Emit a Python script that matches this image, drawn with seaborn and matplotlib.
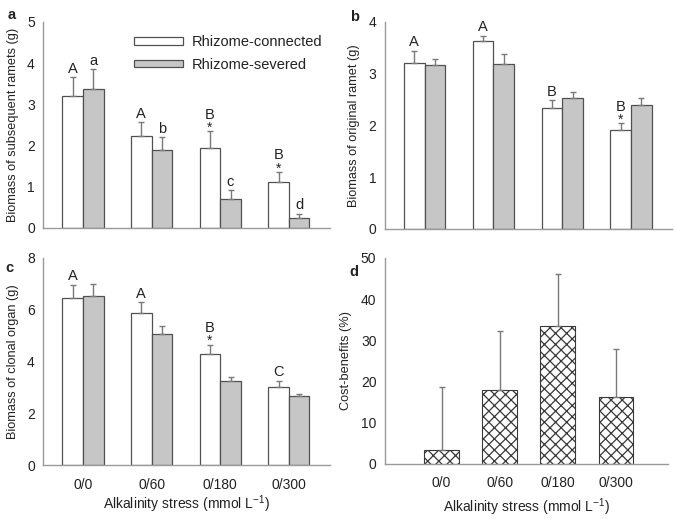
import numpy as np
import pandas as pd
import matplotlib
matplotlib.use('Agg')
import matplotlib.pyplot as plt
import seaborn as sns

stress = ['0/0', '0/60', '0/180', '0/300']
groups = ['Rhizome-connected', 'Rhizome-severed']

# a: biomass of subsequent ramets
sub_conn = [3.21, 2.23, 1.94, 1.11]
sub_conn_se = [0.44, 0.33, 0.40, 0.24]
sub_sev = [3.36, 1.90, 0.71, 0.23]
sub_sev_se = [0.49, 0.30, 0.20, 0.11]
sub_conn_lab = ['A', 'A', 'B', 'B']
sub_sev_lab = ['a', 'b', 'c', 'd']
sub_star = [False, False, True, True]

# b: biomass of original ramet
ori_conn = [3.21, 3.63, 2.34, 1.91]
ori_conn_se = [0.23, 0.10, 0.14, 0.13]
ori_sev = [3.16, 3.18, 2.53, 2.39]
ori_sev_se = [0.13, 0.19, 0.12, 0.13]
ori_conn_lab = ['A', 'A', 'B', 'B']
ori_star = [False, False, False, True]

# c: biomass of clonal organ
clo_conn = [6.45, 5.87, 4.30, 3.02]
clo_conn_se = [0.52, 0.43, 0.35, 0.24]
clo_sev = [6.52, 5.08, 3.26, 2.66]
clo_sev_se = [0.47, 0.30, 0.15, 0.09]
clo_conn_lab = ['A', 'A', 'B', 'C']
clo_star = [False, False, True, False]

# d: cost-benefits
cost = [3.4, 18.0, 33.4, 16.3]
cost_se = [15.2, 14.2, 12.8, 11.6]

sns.set_style('white')
plt.rcParams['font.family'] = ['Liberation Sans', 'DejaVu Sans']
plt.rcParams['mathtext.default'] = 'regular'
plt.rcParams['text.color'] = '#222222'
plt.rcParams['hatch.linewidth'] = 0.9

TXT = '#222222'
SPINE = '#9a9a9a'
ERR = '#7a7a7a'

fig = plt.figure(figsize=(6.75, 5.19), dpi=100)


def style_axes(ax, ymax, step, xlim):
    ax.set_ylim(0, ymax)
    ax.set_xlim(*xlim)
    ax.set_yticks(np.arange(0, ymax + step / 2, step))
    for s in ['top', 'right']:
        ax.spines[s].set_visible(False)
    for s in ['left', 'bottom']:
        ax.spines[s].set_color(SPINE)
        ax.spines[s].set_linewidth(1.0)
    ax.tick_params(axis='y', direction='in', length=2, color=SPINE,
                   labelsize=10, labelcolor=TXT, pad=6)
    ax.tick_params(axis='x', length=0, labelsize=10, labelcolor=TXT, pad=9)
    ax.set_xlabel('')


def paired(ax, conn, conn_se, sev, sev_se, ymax, step, ylabel,
           conn_lab=None, sev_lab=None, star=None, legend=False):
    df = pd.DataFrame({'stress': stress * 2,
                       'group': [groups[0]] * 4 + [groups[1]] * 4,
                       'value': conn + sev})
    sns.barplot(data=df, x='stress', y='value', hue='group', order=stress,
                hue_order=groups, palette=['white', '#c6c6c6'],
                edgecolor='#505050', linewidth=0.9, width=0.6,
                errorbar=None, ax=ax, legend=legend)
    bars = list(ax.containers[:2])
    tops = []
    for cont, vals, se in zip(bars, [conn, sev], [conn_se, sev_se]):
        xs = [b.get_x() + b.get_width() / 2 for b in cont]
        ax.errorbar(xs, vals, yerr=[np.zeros(4), se], fmt='none', ecolor=ERR,
                    elinewidth=1.0, capsize=2.5, capthick=1.0, zorder=1)
        tops.append((xs, [v + e for v, e in zip(vals, se)]))
    for k, labs in enumerate([conn_lab, sev_lab]):
        if labs is None:
            continue
        xs, ts = tops[k]
        for i, lab in enumerate(labs):
            off = 1
            if k == 0 and star is not None and star[i]:
                ax.annotate('*', (xs[i], ts[i]), xytext=(0, -2.5),
                            textcoords='offset points', ha='center',
                            va='bottom', fontsize=10, color=TXT)
                off = 7
            ax.annotate(lab, (xs[i], ts[i]), xytext=(0, off),
                        textcoords='offset points', ha='center',
                        va='bottom', fontsize=10.5, color=TXT)
    style_axes(ax, ymax, step, (-0.58, 3.6))
    ax.set_ylabel(ylabel, fontsize=9.2, color=TXT, labelpad=6)


ax_a = fig.add_axes([0.064, 0.561, 0.425, 0.397])
paired(ax_a, sub_conn, sub_conn_se, sub_sev, sub_sev_se, 5, 1,
       'Biomass of subsequent ramets (g)', sub_conn_lab, sub_sev_lab,
       sub_star, legend=True)
ax_a.set_xticklabels([])
ax_a.legend(loc='upper left', bbox_to_anchor=(0.27, 1.0), frameon=False,
            fontsize=10.5, handlelength=3.4, handleheight=0.45,
            labelspacing=0.6, handletextpad=0.6, edgecolor='none')
for t in ax_a.get_legend().get_texts():
    t.set_color(TXT)

ax_b = fig.add_axes([0.570, 0.559, 0.426, 0.399])
paired(ax_b, ori_conn, ori_conn_se, ori_sev, ori_sev_se, 4, 1,
       'Biomass of original ramet (g)', ori_conn_lab, None, ori_star)
ax_b.set_xticklabels([])

ax_c = fig.add_axes([0.064, 0.104, 0.425, 0.399])
paired(ax_c, clo_conn, clo_conn_se, clo_sev, clo_sev_se, 8, 2,
       'Biomass of clonal organ (g)', clo_conn_lab, None, clo_star)
ax_c.set_xlabel(r'Alkalinity stress (mmol L$^{-1}$)', fontsize=10,
                color=TXT, labelpad=1)

ax_d = fig.add_axes([0.570, 0.106, 0.420, 0.397])
df_d = pd.DataFrame({'stress': stress, 'cost': cost})
sns.barplot(data=df_d, x='stress', y='cost', order=stress, color='white',
            edgecolor='#383838', linewidth=0.8, width=0.6, errorbar=None,
            hatch='xxx', ax=ax_d)
xs_d = [b.get_x() + b.get_width() / 2 for b in ax_d.containers[0]]
ax_d.errorbar(xs_d, cost, yerr=[np.zeros(4), cost_se], fmt='none',
              ecolor=ERR, elinewidth=1.0, capsize=2.5, capthick=1.0, zorder=1)
style_axes(ax_d, 50, 10, (-0.98, 3.9))
ax_d.set_ylabel('Cost-benefits (%)', fontsize=9.2, color=TXT, labelpad=6)
ax_d.set_xlabel(r'Alkalinity stress (mmol L$^{-1}$)', fontsize=10,
                color=TXT, labelpad=4)

for lab, x, y in [('a', 0.012, 0.985), ('b', 0.518, 0.980),
                  ('c', 0.008, 0.497), ('d', 0.518, 0.490)]:
    fig.text(x, y, lab, fontsize=10.5, fontweight='bold', color=TXT,
             ha='left', va='top')

fig.savefig('out.png', dpi=100)
